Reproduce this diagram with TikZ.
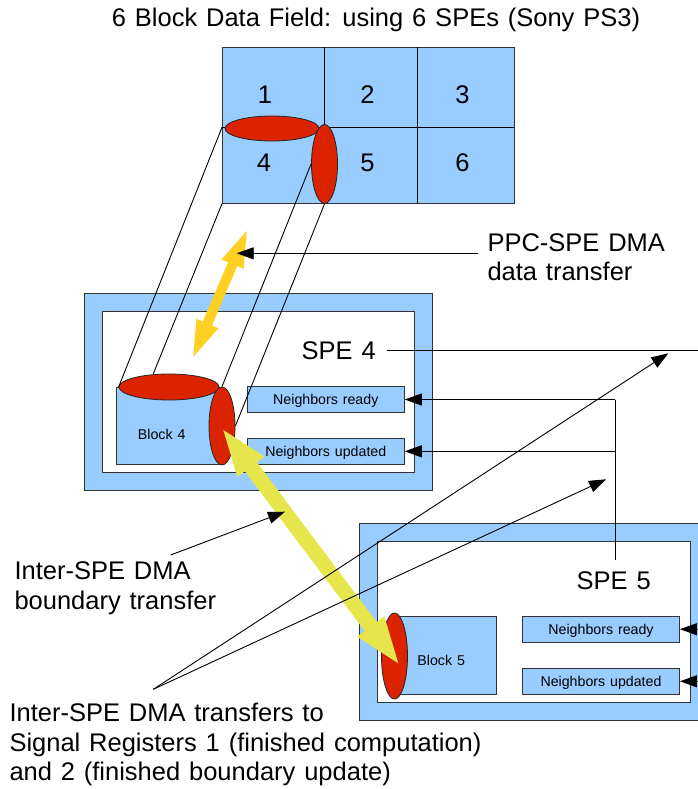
\documentclass[tikz,border=0pt]{standalone}
\usepackage{fontspec}
\setmainfont{Liberation Sans}[WordSpace=1.25]
\usetikzlibrary{arrows.meta,shapes.geometric,calc}
\definecolor{blk}{HTML}{99CCFF}
\definecolor{redf}{HTML}{DC2300}
\definecolor{goldc}{HTML}{FFD022}
\definecolor{ylw}{HTML}{E6E64C}
\begin{document}
\begin{tikzpicture}[x=1pt,y=-1pt,
  big/.style={font=\fontsize{25.5}{29.3}\selectfont, inner sep=0pt},
  small/.style={font=\fontsize{14.2}{17}\selectfont, inner sep=0pt},
  bluebox/.style={draw=black!80, fill=blk, line width=0.9pt},
  whitebox/.style={draw=black!80, fill=white, line width=0.9pt},
  nbox/.style={draw=black!80, fill=blk, line width=0.9pt, minimum width=157pt, minimum height=26pt, inner sep=0pt, text height=10.2pt, text depth=0pt, font=\fontsize{14.2}{17}\selectfont},
  redell/.style={ellipse, draw=black!85, fill=redf, line width=0.8pt, inner sep=0pt},
  thinln/.style={line width=0.9pt},
  arr/.style={thinln, -{Triangle[length=17pt,width=12pt]}},
]
\useasboundingbox (0,0) rectangle (698,789);
\clip (0,0) rectangle (698,789);

% title
\node[big, anchor=base west] (title) at (111.7,27) {6 Block Data Field: using 6 SPEs (Sony PS3)};

% data field grid
\draw[bluebox] (222,47.3) rectangle (514,203.7);
\draw[thinln] (324.3,47.3) -- (324.3,203.7) (417.7,47.3) -- (417.7,203.7) (222,127.3) -- (514,127.3);
\node[big, anchor=base] (n1) at (265,103) {1};
\node[big, anchor=base] (n2) at (367.5,103) {2};
\node[big, anchor=base] (n3) at (462.5,103) {3};
\node[big, anchor=base] (n4) at (264,171.7) {4};
\node[big, anchor=base] (n5) at (367.5,171.7) {5};
\node[big, anchor=base] (n6) at (462.5,171.7) {6};

% SPE 4
\draw[bluebox] (84,293.3) rectangle (432.7,490);
\draw[whitebox] (102.3,311.7) rectangle (414.3,472.3);
\draw[bluebox] (116.7,387) rectangle (221.7,464.5);
\node[small, anchor=base] (b4lbl) at (161.7,439) {Block 4};
\node[nbox] (nr4) at (325.8,399.5) {Neighbors ready};
\node[nbox] (nu4) at (325.8,451.3) {Neighbors updated};
\node[big, anchor=base west] (spe4) at (301.5,359) {SPE 4};

% SPE 5
\draw[bluebox] (359.3,523.3) rectangle (712,720);
\draw[whitebox] (377.3,541.7) rectangle (690,702.7);
\draw[bluebox] (398.3,616) rectangle (496.7,694);
\node[small, anchor=base] (b5lbl) at (441.2,665) {Block 5};
\node[nbox] (nr5) at (601,629.2) {Neighbors ready};
\node[nbox] (nu5) at (601,681.3) {Neighbors updated};
\node[big, anchor=base west] (spe5) at (576.5,589) {SPE 5};

% boundary ellipses
\node[redell, minimum width=94pt, minimum height=25pt] (e1) at (272,128.5) {};
\node[redell, minimum width=26pt, minimum height=79pt] (e2) at (324.5,164) {};
\node[redell, minimum width=100pt, minimum height=26pt] (e3) at (169,387) {};
\node[redell, minimum width=26pt, minimum height=78pt] (e4) at (222,426) {};
\node[redell, minimum width=26pt, minimum height=86pt] (e5) at (394.5,656) {};

% projection lines
\coordinate (g1) at (222,127.3);
\coordinate (g2) at (222,203.7);
\coordinate (p2) at (153.3,373.8);
\draw[thinln] (g1) -- (e3.west);
\draw[thinln] (g2) -- (p2);
\draw[thinln] (e2.west) -- (e4.north);
\draw[thinln] (e2.south) -- (e4.east);

% PPC-SPE double arrow
\coordinate (oA) at (246.7,231);
\coordinate (oB) at (193.3,356.7);
\coordinate (oa1) at ($(oA)!36pt!(oB)$);
\coordinate (oa2) at ($(oB)!36pt!(oA)$);
\fill[goldc] (oA) -- ($(oa1)!12pt!90:(oB)$) -- ($(oa1)!5pt!90:(oB)$) -- ($(oa2)!5pt!-90:(oA)$) -- ($(oa2)!12pt!-90:(oA)$) -- (oB) -- ($(oa2)!12pt!90:(oA)$) -- ($(oa2)!5pt!90:(oA)$) -- ($(oa1)!5pt!-90:(oB)$) -- ($(oa1)!12pt!-90:(oB)$) -- cycle;

% Inter-SPE double arrow
\coordinate (yA) at (223.3,430);
\coordinate (yB) at (398.3,663.3);
\coordinate (ya1) at ($(yA)!46pt!(yB)$);
\coordinate (ya2) at ($(yB)!46pt!(yA)$);
\fill[ylw] (yA) -- ($(ya1)!17pt!90:(yB)$) -- ($(ya1)!7.5pt!90:(yB)$) -- ($(ya2)!7.5pt!-90:(yA)$) -- ($(ya2)!17pt!-90:(yA)$) -- (yB) -- ($(ya2)!17pt!90:(yA)$) -- ($(ya2)!7.5pt!90:(yA)$) -- ($(ya1)!7.5pt!-90:(yB)$) -- ($(ya1)!17pt!-90:(yB)$) -- cycle;

% SPE 4 label line
\coordinate (s4a) at (387.3,350);
\coordinate (s4b) at (712,350);
\draw[thinln] (s4a) -- (s4b);

% signal lines into SPE 4
\coordinate (j1) at (615.3,399.5);
\coordinate (j2) at (615.3,451.3);
\coordinate (j3) at (615.3,560);
\draw[thinln] (j1) -- (j3);
\draw[arr] (j1) -- (nr4.east);
\draw[arr] (j2) -- (nu4.east);

% signal lines into SPE 5
\coordinate (r1) at (712,629.2);
\coordinate (r2) at (712,681.3);
\draw[arr] (r1) -- (nr5.east);
\draw[arr] (r2) -- (nu5.east);

% PPC-SPE label
\coordinate (ppc) at (478.3,253.3);
\coordinate (ppctip) at (236.7,253.3);
\draw[arr] (ppc) -- (ppctip);
\node[big, anchor=north west, align=left] (ppclbl) at (487.3,233.4) {PPC-SPE DMA\\data transfer};

% boundary transfer label
\coordinate (bsrc) at (170.7,555);
\coordinate (btip) at (285,511.7);
\draw[arr] (bsrc) -- (btip);
\node[big, anchor=north west, align=left] (bndlbl) at (14.3,561.7) {Inter-SPE DMA\\boundary transfer};

% signal register label
\coordinate (src) at (153.3,689.3);
\coordinate (t1) at (668.3,353.3);
\coordinate (t2) at (606,479.3);
\draw[arr] (src) -- (t1);
\draw[arr] (src) -- (t2);
\node[big, anchor=north west, align=left] (siglbl) at (9.3,703.3) {Inter-SPE DMA transfers to\\Signal Registers 1 (finished computation)\\and 2 (finished boundary update)};
\end{tikzpicture}
\end{document}
